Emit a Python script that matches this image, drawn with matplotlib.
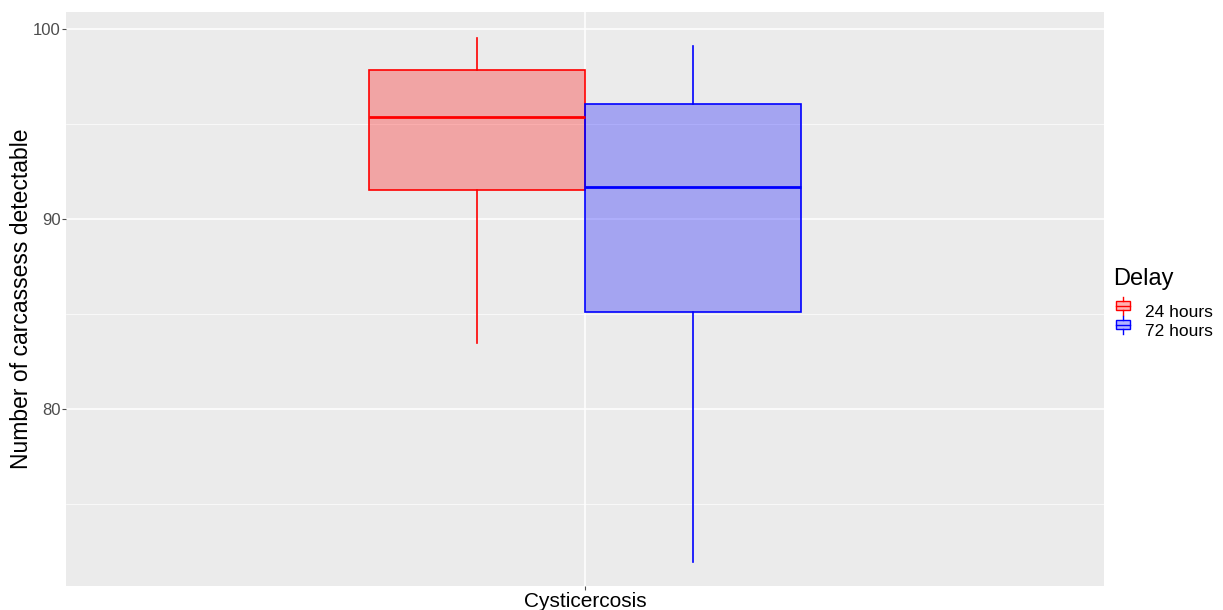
import matplotlib
matplotlib.use("Agg")
import matplotlib.pyplot as plt
from matplotlib.patches import Rectangle
from matplotlib.lines import Line2D
from matplotlib.legend_handler import HandlerBase

plt.rcParams['font.family'] = ['Liberation Sans', 'DejaVu Sans']

# data
groups = ["24 hours", "72 hours"]
colours = ["#FF0000", "#0000FF"]
whislo = [83.47, 71.98]
q1 = [91.53, 85.12]
med = [95.38, 91.72]
q3 = [97.87, 96.07]
whishi = [99.53, 99.10]
category = "Cysticercosis"


# small boxplot glyph for legend keys
class BoxKey(HandlerBase):
    def __init__(self, col):
        super().__init__()
        self.col = col

    def create_artists(self, legend, orig, xd, yd, w, h, fs, trans):
        bx = Rectangle((xd + w * 0.12, yd + h * 0.22), w * 0.76, h * 0.56,
                       facecolor=self.col, alpha=0.3, transform=trans)
        be = Rectangle((xd + w * 0.12, yd + h * 0.22), w * 0.76, h * 0.56,
                       facecolor="none", edgecolor=self.col, lw=1, transform=trans)
        m = Line2D([xd + w * 0.12, xd + w * 0.88], [yd + h / 2] * 2, color=self.col, lw=1, transform=trans)
        w1 = Line2D([xd + w / 2] * 2, [yd - h * 0.05, yd + h * 0.22], color=self.col, lw=1, transform=trans)
        w2 = Line2D([xd + w / 2] * 2, [yd + h * 0.78, yd + h * 1.05], color=self.col, lw=1, transform=trans)
        return [bx, be, m, w1, w2]


fig = plt.figure(figsize=(12.23, 6.1), dpi=100)
ax = fig.add_axes([0.054, 0.0393, 0.8487, 0.9410])
ax.set_facecolor("#EBEBEB")

offs = [-0.125, 0.125]
for i in range(2):
    st = [dict(med=med[i], q1=q1[i], q3=q3[i], whislo=whislo[i], whishi=whishi[i], fliers=[])]
    ax.bxp(st, positions=[1 + offs[i]], widths=0.25, patch_artist=True, showcaps=False,
           boxprops=dict(facecolor=matplotlib.colors.to_rgba(colours[i], 0.3), edgecolor=colours[i], lw=1.2),
           medianprops=dict(color=colours[i], lw=2),
           whiskerprops=dict(color=colours[i], lw=1.2), zorder=3)

ax.set_xlim(0.4, 1.6)
ax.set_ylim(70.7, 100.91)
ax.set_xticks([1])
ax.set_xticklabels([category], fontsize=15, color="black")
ax.set_yticks([80, 90, 100])
ax.set_yticks([75, 85, 95], minor=True)
ax.tick_params(axis="y", labelsize=12, colors="#4D4D4D", length=3, width=0.8, pad=1)
ax.tick_params(axis="y", which="minor", length=0)
ax.tick_params(axis="x", length=3, width=0.8, colors="#4D4D4D", labelcolor="black", pad=1)
ax.grid(True, which="major", color="white", lw=1.1)
ax.grid(True, which="minor", axis="y", color="white", lw=0.5)
ax.set_axisbelow(True)
for s in ax.spines.values():
    s.set_visible(False)
ax.set_ylabel("Number of carcassess detectable", fontsize=16.5)
ax.yaxis.set_label_coords(-0.032, 0.5)

hs = [Rectangle((0, 0), 1, 1), Rectangle((0, 0), 1, 1)]
leg = fig.legend(hs, groups, title="Delay", loc="upper left", bbox_to_anchor=(0.902, 0.578),
                 frameon=False, fontsize=12.5, title_fontsize=17, handlelength=1.1, handleheight=1.1,
                 handletextpad=0.7, labelspacing=0.1, borderaxespad=0.2,
                 handler_map={hs[0]: BoxKey(colours[0]), hs[1]: BoxKey(colours[1])})
leg._legend_box.align = "left"
leg._legend_box.sep = 9

fig.savefig("out.png", dpi=100)
